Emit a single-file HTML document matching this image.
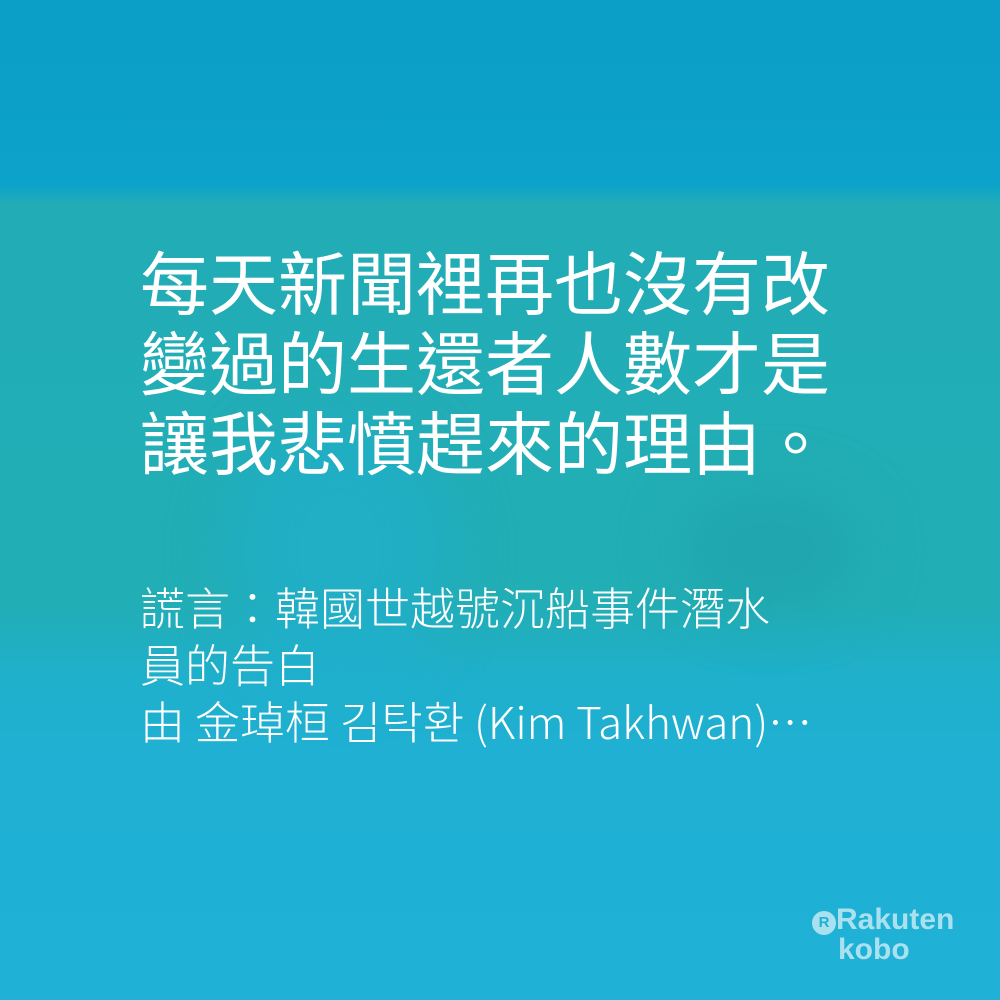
<!DOCTYPE html>
<html><head><meta charset="utf-8"><style>
html,body{margin:0;padding:0}
body{width:1000px;height:1000px;position:relative;overflow:hidden;
background:linear-gradient(180deg,#0b9ec7 0px,#0ca2c9 185px,#22adb6 205px,#22aeb5 600px,#1fb0cc 680px,#1fb0d4 760px,#1fb1d6 1000px);
font-family:"Noto Sans CJK TC","Liberation Sans",sans-serif;color:#fff}
.blob{position:absolute;border-radius:50%;filter:blur(30px)}
.q{position:absolute;left:140px;top:239px;font-size:69px;line-height:80px;font-weight:400;white-space:nowrap}
.s{position:absolute;left:140px;top:577px;font-size:45px;line-height:57px;font-weight:300;white-space:nowrap}
.lat{font-size:44px}
.logo{position:absolute;left:812px;top:905px;color:rgba(230,245,250,0.7);font-family:"Liberation Sans",sans-serif;font-weight:bold;font-size:30px;line-height:30px}
</style></head><body>
<div class="blob" style="left:230px;top:420px;width:220px;height:260px;background:rgba(30,176,214,0.5)"></div>
<div class="blob" style="left:680px;top:490px;width:180px;height:120px;background:rgba(30,160,170,0.6)"></div>
<div class="q">每天新聞裡再也沒有改<br>變過的生還者人數才是<br>讓我悲憤趕來的理由。</div>
<div class="s"><span>謊言：韓國世越號沉船事件潛水<br>員的告白</span><br><span>由 金琸桓 김탁환 <span class="lat">(Kim Takhwan)…</span></span></div>
<div class="logo"><span style="display:inline-block;width:24px;height:24px;border-radius:50%;background:rgba(230,245,250,0.7);color:#1fb0d4;font-size:15px;line-height:24px;text-align:center;vertical-align:2px">R</span>Rakuten<br><span style="padding-left:26px">kobo</span></div>
</body></html>
